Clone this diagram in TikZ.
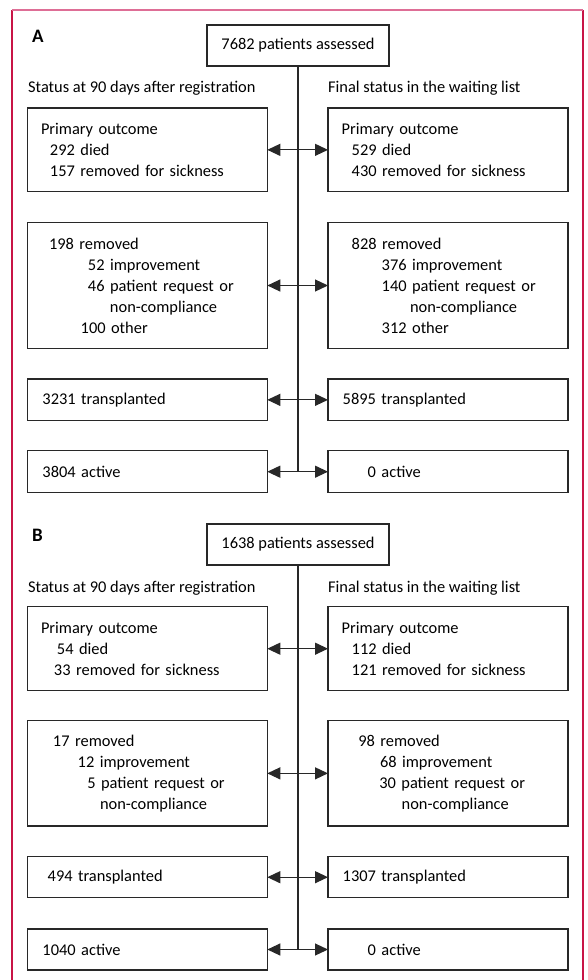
\documentclass[tikz,border=0pt]{standalone}
\usepackage{fontspec}
\setmainfont{Carlito}
\usetikzlibrary{arrows.meta}
\definecolor{framered}{RGB}{200,20,70}
\definecolor{framepink}{RGB}{222,110,150}
\definecolor{boxgray}{RGB}{40,40,40}
\tikzset{
  txt/.style={font=\fontsize{16.4}{21}\selectfont, text=black},
  box/.style={txt, draw=boxgray, line width=1.2pt, rectangle, anchor=north west,
    inner xsep=13.7pt, inner ysep=0pt, outer sep=0pt, align=left,
    minimum width=240pt, text width=212.6pt},
  topbox/.style={txt, draw=boxgray, line width=1.2pt, rectangle, inner sep=0pt,
    outer sep=0pt, minimum width=182pt, minimum height=41pt},
  heading/.style={txt, anchor=base west, inner sep=0pt},
  panel/.style={font=\fontsize{19}{19}\selectfont\bfseries, anchor=base west, inner sep=0pt, text=black},
  trunk/.style={draw=boxgray, line width=1.2pt},
  arr/.style={draw=boxgray, line width=1.2pt,
    {Triangle[length=13pt,width=12pt]}-{Triangle[length=13pt,width=12pt]}},
  frameside/.style={draw=framered, line width=1.3pt},
  frametop/.style={draw=framepink, line width=1.5pt}
}
\begin{document}
\begin{tikzpicture}[x=1pt,y=-1pt]
\useasboundingbox (0,0) rectangle (587,980);
% frame
\draw[frameside] (12,10) -- (12,980);
\draw[frameside] (583,10) -- (583,980);
\draw[frametop] (12,10) -- (583,10);

% ---------- Panel A ----------
\node[panel] (labA) at (32,42) {A};
\node[topbox] (aTop) at (298,45.5) {7682 patients assessed};
\node[heading] (aHL) at (28,92.7) {Status at 90 days after registration};
\node[heading] (aHR) at (328,92.7) {Final status in the waiting list};

\node[box, minimum height=83.7pt] (a1L) at (27.3,108)
  {Primary outcome\\\hspace*{9pt}292 died\\\hspace*{9pt}157 removed for sickness};
\node[box, minimum height=83.7pt] (a1R) at (328,108)
  {Primary outcome\\\hspace*{10pt}529 died\\\hspace*{10pt}430 removed for sickness};

\node[box, minimum height=125.6pt] (a2L) at (27.3,222.7)
  {\hspace*{8pt}198 removed\\\hspace*{47pt}52 improvement\\\hspace*{47pt}46 patient request or\\\hspace*{69pt}non-compliance\\\hspace*{39.7pt}100 other};
\node[box, minimum height=125.6pt] (a2R) at (328,222.7)
  {\hspace*{10pt}828 removed\\\hspace*{40pt}376 improvement\\\hspace*{40pt}140 patient request or\\\hspace*{68.3pt}non-compliance\\\hspace*{40pt}312 other};

\node[box, minimum height=41.7pt] (a3L) at (27.3,379)
  {\hspace*{1.5pt}3231 transplanted};
\node[box, minimum height=41.7pt] (a3R) at (328,379)
  {\hspace*{1pt}5895 transplanted};

\node[box, minimum height=42pt] (a4L) at (27.3,450.7)
  {\hspace*{1.5pt}3804 active};
\node[box, minimum height=42pt] (a4R) at (328,450.7)
  {\hspace*{26pt}0 active};

\coordinate (aEnd) at (aTop.south |- a4L.east);
\draw[trunk] (aTop.south) -- (aEnd);
\draw[arr] (a1L.east) -- (a1R.west);
\draw[arr] (a2L.east) -- (a2R.west);
\draw[arr] (a3L.east) -- (a3R.west);
\draw[arr] (a4L.east) -- (a4R.west);

% ---------- Panel B ----------
\node[panel] (labB) at (32,541) {B};
\node[topbox] (bTop) at (298,544.5) {1638 patients assessed};
\node[heading] (bHL) at (28,592.3) {Status at 90 days after registration};
\node[heading] (bHR) at (328,592.3) {Final status in the waiting list};

\node[box, minimum height=84pt] (b1L) at (27.3,606.7)
  {Primary outcome\\\hspace*{16pt}54 died\\\hspace*{13pt}33 removed for sickness};
\node[box, minimum height=84pt] (b1R) at (328,606.7)
  {Primary outcome\\\hspace*{10pt}112 died\\\hspace*{10pt}121 removed for sickness};

\node[box, minimum height=105.3pt] (b2L) at (27.3,720.7)
  {\hspace*{12pt}17 removed\\\hspace*{36.7pt}12 improvement\\\hspace*{46.3pt}5 patient request or\\\hspace*{59pt}non-compliance};
\node[box, minimum height=105.3pt] (b2R) at (328,720.7)
  {\hspace*{16.6pt}98 removed\\\hspace*{38.3pt}68 improvement\\\hspace*{37.6pt}30 patient request or\\\hspace*{60pt}non-compliance};

\node[box, minimum height=41pt] (b3L) at (27.3,856.7)
  {\hspace*{6.7pt}494 transplanted};
\node[box, minimum height=41pt] (b3R) at (328,856.7)
  {\hspace*{1pt}1307 transplanted};

\node[box, minimum height=41pt] (b4L) at (27.3,929)
  {\hspace*{1.5pt}1040 active};
\node[box, minimum height=41pt] (b4R) at (328,929)
  {\hspace*{26pt}0 active};

\coordinate (bEnd) at (bTop.south |- b4L.east);
\draw[trunk] (bTop.south) -- (bEnd);
\draw[arr] (b1L.east) -- (b1R.west);
\draw[arr] (b2L.east) -- (b2R.west);
\draw[arr] (b3L.east) -- (b3R.west);
\draw[arr] (b4L.east) -- (b4R.west);
\end{tikzpicture}
\end{document}
